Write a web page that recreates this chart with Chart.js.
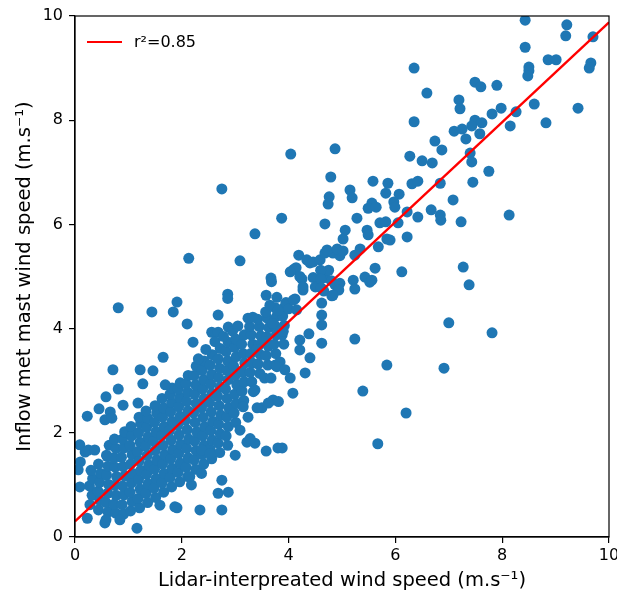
<!DOCTYPE html>
<html>
<head>
<meta charset="utf-8">
<script src="https://cdn.jsdelivr.net/npm/chart.js@4.4.1/dist/chart.umd.min.js"></script>
<style>
  html, body { margin: 0; padding: 0; background: #fff; }
  #wrap { width: 617px; height: 593px; }
</style>
</head>
<body>
<div id="wrap"><canvas id="scatter"></canvas></div>
<script>
// sparse points above ~5 m/s, read one by one
const outerLidar = [
  8.43, 9.21, 9.19, 9.70, 8.43, 6.35, 8.50, 8.50, 8.48, 8.86,
  9.01, 9.66, 9.63, 6.59, 7.49, 7.60, 7.90, 7.19, 7.21, 8.60,
  9.42, 7.98, 7.81, 8.26, 6.35, 8.82, 8.15, 7.49, 7.43, 7.62,
  7.10, 7.25, 7.58, 7.32, 6.74, 6.87, 4.87, 7.40, 7.43, 6.27,
  6.50, 6.69, 7.75, 4.79, 5.58, 7.45, 6.31, 6.42, 6.84, 5.15,
  5.19, 5.86, 5.82, 4.76, 4.74, 6.07, 7.08, 5.56, 5.49, 5.64,
  5.97, 5.99, 5.28, 6.67, 6.84, 6.85, 6.22, 6.42, 7.23, 8.13,
  4.68, 5.71, 5.82, 5.06, 5.47, 5.49, 6.05, 5.02, 5.84, 5.90,
  6.22, 4.72, 4.91, 5.02, 5.34, 5.24, 5.62, 6.12, 7.27, 7.38,
  5.43, 5.52, 5.21, 5.24, 4.83, 5.68, 5.56, 7.00, 7.81, 5.24,
  5.84, 6.91, 5.39, 6.20, 5.67
];
const outerMast = [
  9.92, 9.83, 9.62, 9.60, 9.40, 9.00, 9.02, 8.95, 8.85, 9.16,
  9.16, 9.10, 9.00, 8.52, 8.73, 8.64, 8.67, 8.39, 8.22, 8.31,
  8.23, 8.23, 8.12, 8.16, 7.97, 7.95, 7.89, 8.00, 7.89, 7.95,
  7.79, 7.83, 7.74, 7.64, 7.60, 7.43, 7.45, 7.37, 7.20, 7.31,
  7.22, 7.18, 7.02, 6.91, 6.83, 6.81, 6.78, 6.83, 6.79, 6.66,
  6.51, 6.79, 6.60, 6.53, 6.39, 6.58, 6.47, 6.41, 6.31, 6.33,
  6.43, 6.33, 6.12, 6.28, 6.18, 6.08, 6.24, 6.14, 6.05, 6.18,
  6.01, 6.03, 6.05, 5.89, 5.89, 5.80, 6.03, 5.72, 5.72, 5.70,
  5.76, 5.51, 5.53, 5.49, 5.53, 5.41, 5.16, 5.09, 5.18, 4.84,
  4.99, 4.89, 4.93, 4.76, 4.64, 5.57, 4.93, 4.11, 3.92, 3.80,
  3.30, 3.24, 2.80, 2.38, 1.79
];

// the knot of points around 4-5 m/s
const clusterLidar = [
  4.04, 2.75, 3.87, 3.37, 2.13, 3.09, 4.19, 4.10, 4.14, 3.67,
  3.68, 4.25, 4.40, 2.86, 2.86, 3.58, 3.78, 4.12, 1.91, 4.27,
  4.34, 4.46, 4.59, 4.68, 4.83, 4.96, 4.21, 4.46, 4.68, 4.80,
  4.27, 4.50, 4.66, 4.87, 4.96, 4.75, 4.60, 4.60, 4.61, 4.62,
  4.62, 4.62, 4.62, 4.81, 4.94, 4.38, 4.40, 4.31, 4.21, 4.21,
  4.03, 4.09, 4.15
];
const clusterMast = [
  7.35, 6.68, 6.12, 5.82, 5.35, 5.30, 5.41, 5.14, 5.17, 4.97,
  4.90, 4.95, 5.26, 4.66, 4.58, 4.64, 4.60, 4.57, 4.51, 4.74,
  5.32, 5.28, 5.32, 5.45, 5.45, 5.40, 5.00, 4.98, 4.98, 4.92,
  4.80, 4.80, 4.72, 4.84, 4.87, 5.12, 5.12, 4.95, 4.78, 4.49,
  4.26, 4.07, 3.72, 4.63, 4.74, 3.90, 3.44, 3.15, 3.78, 3.59,
  5.09, 4.55, 4.36
];

// points scattered round the edge of the dense cloud
const rimLidar = [
  4.03, 4.08, 3.71, 3.50, 3.41, 3.37, 3.55, 3.67, 3.75, 3.84,
  3.15, 3.24, 3.24, 3.33, 2.68, 3.65, 3.80, 3.95, 4.00, 2.56,
  2.68, 2.21, 2.87, 0.81, 1.44, 1.84, 2.10, 0.71, 1.22, 1.46,
  1.65, 1.27, 0.81, 0.58, 0.23, 0.45, 0.66, 0.90, 1.18, 0.09,
  0.19, 0.10, 0.06, 0.09, 0.23, 0.56, 0.58, 1.16, 0.84, 1.91,
  2.34, 2.75, 2.68, 2.87, 2.75, 3.00, 3.22, 3.37, 3.58, 3.80,
  3.88, 0.56, 0.69, 0.25, 0.37, 0.59, 1.87, 1.59, 2.18, 2.15,
  2.37, 2.37, 2.53, 3.09, 3.62, 3.81, 3.40, 3.55, 3.90, 3.70,
  3.34, 3.28, 3.78, 3.93, 2.45, 2.62, 2.78, 2.95, 3.05,
  1.69, 2.31
];
const rimMast = [
  3.05, 2.76, 2.63, 2.48, 2.48, 2.82, 3.05, 3.05, 3.30, 3.36,
  2.50, 2.30, 4.20, 4.22, 4.26, 4.45, 4.35, 4.50, 4.38, 3.93,
  3.93, 3.74, 4.03, 4.40, 4.32, 4.32, 4.09, 3.21, 3.21, 3.19,
  3.45, 2.94, 2.84, 2.69, 2.32, 2.46, 2.40, 2.53, 2.57, 1.77,
  1.63, 1.44, 1.29, 0.96, 0.36, 0.27, 0.33, 0.17, 0.33, 0.56,
  0.52, 0.52, 0.84, 0.86, 1.09, 1.57, 1.82, 1.80, 1.65, 1.71,
  1.71, 2.25, 2.28, 1.67, 1.67, 1.57, 0.58, 0.61, 1.00, 1.16,
  1.22, 1.67, 1.60, 2.05, 2.57, 2.60, 3.60, 3.75, 3.95, 4.10,
  2.79, 1.89, 3.27, 3.21, 3.60, 3.75, 3.85, 3.95, 4.05,
  2.92, 3.42
];

// dense cloud under 4 m/s, one line per strip of lidar speed
const coreLidar = [
  0.28, 0.32, 0.27, 0.33, 0.30,
  0.44, 0.47, 0.43, 0.46, 0.48, 0.44,
  0.62, 0.58, 0.61, 0.63, 0.59, 0.62, 0.60, 0.64,
  0.76, 0.73, 0.77, 0.74, 0.78, 0.75, 0.73, 0.77, 0.74,
  0.91, 0.88, 0.92, 0.89, 0.93, 0.90, 0.87, 0.92, 0.89, 0.93,
  1.04, 1.07, 1.03, 1.06, 1.08, 1.04, 1.07, 1.03, 1.06, 1.05,
  1.21, 1.18, 1.22, 1.19, 1.23, 1.20, 1.17, 1.22, 1.19, 1.23, 1.20,
  1.36, 1.33, 1.37, 1.34, 1.38, 1.35, 1.32, 1.37, 1.34, 1.36, 1.33,
  1.51, 1.48, 1.52, 1.49, 1.53, 1.50, 1.47, 1.52, 1.49, 1.53, 1.50,
  1.66, 1.63, 1.67, 1.64, 1.68, 1.65, 1.62, 1.67, 1.64, 1.66, 1.63,
  1.81, 1.78, 1.82, 1.79, 1.83, 1.80, 1.77, 1.82, 1.79, 1.81, 1.78, 1.82,
  1.96, 1.93, 1.97, 1.94, 1.98, 1.95, 1.92, 1.97, 1.94, 1.96, 1.93, 1.97,
  2.11, 2.08, 2.12, 2.09, 2.13, 2.10, 2.07, 2.12, 2.09, 2.11, 2.08, 2.12,
  2.26, 2.23, 2.27, 2.24, 2.28, 2.25, 2.22, 2.27, 2.24, 2.26, 2.23, 2.27,
  2.41, 2.38, 2.42, 2.39, 2.43, 2.40, 2.37, 2.42, 2.39, 2.41, 2.38, 2.42,
  2.56, 2.53, 2.57, 2.54, 2.58, 2.55, 2.52, 2.57, 2.54, 2.56, 2.53, 2.57,
  2.71, 2.68, 2.72, 2.69, 2.73, 2.70, 2.67, 2.72, 2.69, 2.71, 2.68, 2.72,
  2.86, 2.83, 2.87, 2.84, 2.88, 2.85, 2.82, 2.87, 2.84, 2.86, 2.83, 2.87,
  3.01, 2.98, 3.02, 2.99, 3.03, 3.00, 2.97, 3.02, 2.99, 3.01,
  3.16, 3.13, 3.17, 3.14, 3.18, 3.15, 3.12, 3.17,
  3.31, 3.28, 3.32, 3.29, 3.33, 3.30, 3.27,
  3.46, 3.43, 3.47, 3.44, 3.48, 3.45, 3.42,
  3.61, 3.58, 3.62, 3.59, 3.63, 3.60, 3.57,
  3.76, 3.73, 3.77, 3.74, 3.78, 3.75,
  3.91, 3.88, 3.92, 3.89, 3.93
];
const coreMast = [
  0.62, 0.80, 0.98, 1.12, 1.28,
  0.52, 0.70, 0.88, 1.05, 1.22, 1.40,
  0.48, 0.66, 0.84, 1.01, 1.19, 1.36, 1.55, 1.76,
  0.46, 0.63, 0.80, 0.99, 1.16, 1.34, 1.52, 1.70, 1.88,
  0.44, 0.62, 0.81, 0.98, 1.17, 1.35, 1.53, 1.71, 1.88, 2.02,
  0.50, 0.68, 0.86, 1.04, 1.22, 1.40, 1.58, 1.76, 1.94, 2.12,
  0.56, 0.74, 0.92, 1.10, 1.28, 1.46, 1.64, 1.82, 2.00, 2.18, 2.30,
  0.66, 0.84, 1.02, 1.20, 1.38, 1.56, 1.74, 1.92, 2.10, 2.28, 2.42,
  0.76, 0.94, 1.12, 1.30, 1.48, 1.66, 1.84, 2.02, 2.20, 2.38, 2.52,
  0.86, 1.04, 1.22, 1.40, 1.58, 1.76, 1.94, 2.12, 2.30, 2.48, 2.66,
  0.96, 1.14, 1.32, 1.50, 1.68, 1.86, 2.04, 2.22, 2.40, 2.58, 2.74, 2.86,
  1.06, 1.24, 1.42, 1.60, 1.78, 1.96, 2.14, 2.32, 2.50, 2.68, 2.84, 2.96,
  1.16, 1.34, 1.52, 1.70, 1.88, 2.06, 2.24, 2.42, 2.60, 2.78, 2.94, 3.10,
  1.30, 1.48, 1.66, 1.84, 2.02, 2.20, 2.38, 2.56, 2.74, 2.92, 3.10, 3.28,
  1.40, 1.58, 1.76, 1.94, 2.12, 2.30, 2.48, 2.66, 2.84, 3.02, 3.20, 3.38,
  1.50, 1.68, 1.86, 2.04, 2.22, 2.40, 2.58, 2.76, 2.94, 3.12, 3.30, 3.50,
  1.62, 1.80, 1.98, 2.16, 2.34, 2.52, 2.70, 2.88, 3.06, 3.24, 3.42, 3.62,
  1.76, 1.94, 2.12, 2.30, 2.48, 2.66, 2.84, 3.02, 3.20, 3.38, 3.56, 3.74,
  2.20, 2.38, 2.56, 2.74, 2.92, 3.10, 3.28, 3.46, 3.64, 3.80,
  2.62, 2.80, 2.98, 3.16, 3.34, 3.52, 3.70, 3.88,
  2.98, 3.16, 3.34, 3.52, 3.70, 3.88, 4.04,
  3.14, 3.32, 3.50, 3.68, 3.86, 4.04, 4.18,
  3.30, 3.48, 3.66, 3.84, 4.02, 4.20, 4.32,
  3.52, 3.70, 3.88, 4.06, 4.24, 4.40,
  3.70, 3.88, 4.06, 4.24, 4.42
];

// red regression line
const fitLidar = [0, 10];
const fitMast = [0.3, 9.88];
const fitLabel = "r\u00b2=0.85";

const axisTicks = [0, 2, 4, 6, 8, 10];

function pairUp(xs, ys) {
  return xs.map((x, i) => ({ x: x, y: ys[i] }));
}

const points = []
  .concat(pairUp(coreLidar, coreMast))
  .concat(pairUp(rimLidar, rimMast))
  .concat(pairUp(clusterLidar, clusterMast))
  .concat(pairUp(outerLidar, outerMast));

Chart.defaults.font.family = "'DejaVu Sans', sans-serif";
Chart.defaults.color = "#000";

// matplotlib style frame and an in-axes legend
const frameAndLegend = {
  id: "frameAndLegend",
  afterDatasetsDraw(chart) {
    const { ctx, chartArea: a } = chart;
    const fit = chart.data.datasets[1];
    ctx.save();
    ctx.strokeStyle = "#000";
    ctx.lineWidth = 1.2;
    ctx.strokeRect(a.left, a.top, a.right - a.left, a.bottom - a.top);

    ctx.strokeStyle = fit.borderColor;
    ctx.lineWidth = 2.2;
    ctx.beginPath();
    ctx.moveTo(a.left + 12, a.top + 26);
    ctx.lineTo(a.left + 47, a.top + 26);
    ctx.stroke();

    ctx.fillStyle = "#000";
    ctx.font = "16px 'DejaVu Sans'";
    ctx.textBaseline = "middle";
    ctx.fillText(fit.label, a.left + 59, a.top + 27);
    ctx.restore();
  },
};

const tickFont = { size: 16 };
const titleFont = { size: 19.5 };

new Chart(document.getElementById("scatter"), {
  type: "scatter",
  data: {
    datasets: [
      {
        label: "samples",
        data: points,
        backgroundColor: "#1f77b4",
        borderWidth: 0,
        pointRadius: 5.5,
        pointHoverRadius: 5.5,
        clip: 0,
        order: 1,
      },
      {
        type: "line",
        label: fitLabel,
        data: pairUp(fitLidar, fitMast),
        borderColor: "#ff0000",
        borderWidth: 2.4,
        pointRadius: 0,
        fill: false,
        clip: 0,
        order: 0,
      },
    ],
  },
  plugins: [frameAndLegend],
  options: {
    responsive: true,
    maintainAspectRatio: false,
    animation: false,
    layout: { padding: { top: 16, right: 8, left: 0, bottom: 0 } },
    plugins: {
      legend: { display: false },
      tooltip: { enabled: false },
    },
    scales: {
      x: {
        type: "linear",
        min: 0,
        max: 10,
        afterBuildTicks: (s) => { s.ticks = axisTicks.map((v) => ({ value: v })); },
        ticks: { font: tickFont, padding: 3, maxRotation: 0 },
        grid: { drawOnChartArea: false, drawTicks: true, tickLength: 6, color: "#000", lineWidth: 1.2 },
        border: { display: true, color: "#000", width: 1.2 },
        title: {
          display: true,
          text: "Lidar-interpreated wind speed (m.s\u207b\u00b9)",
          font: titleFont,
          padding: { top: 2, bottom: 0 },
        },
        afterFit: (s) => {
          s.height = 56;
          s.paddingLeft = 0;
          s.paddingRight = 0;
        },
      },
      y: {
        type: "linear",
        min: 0,
        max: 10,
        afterBuildTicks: (s) => { s.ticks = axisTicks.map((v) => ({ value: v })); },
        ticks: { font: tickFont, padding: 6 },
        grid: { drawOnChartArea: false, drawTicks: true, tickLength: 6, color: "#000", lineWidth: 1.2 },
        border: { display: true, color: "#000", width: 1.2 },
        title: {
          display: true,
          text: "Inflow met mast wind speed (m.s\u207b\u00b9)",
          font: titleFont,
          padding: { top: 13, bottom: 0 },
        },
        afterFit: (s) => { s.width = 75; },
      },
    },
  },
});
</script>
</body>
</html>
